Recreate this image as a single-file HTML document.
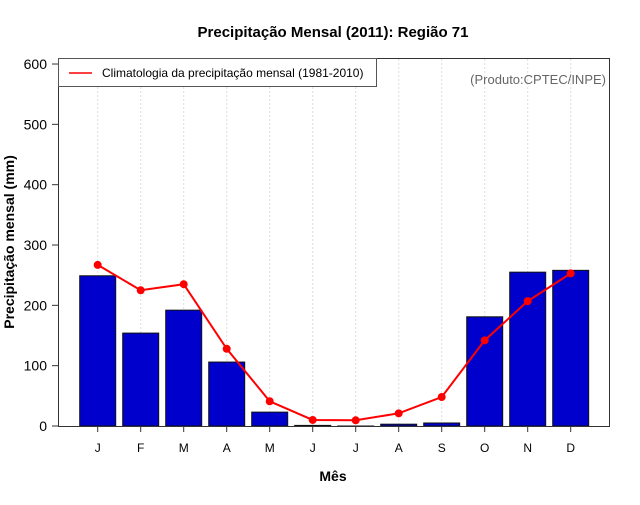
<!DOCTYPE html>
<html><head><meta charset="utf-8"><style>
body{margin:0;background:#fff;width:640px;height:500px;overflow:hidden}
svg{font-family:"Liberation Sans",sans-serif}
</style></head><body>
<svg width="640" height="500">
<text x="333" y="37" text-anchor="middle" font-size="15" font-weight="bold">Precipitação Mensal (2011): Região 71</text>
<g id="grid"></g>
<g id="bars"></g>
<g id="line"></g>
<rect x="58.5" y="58.5" width="551" height="368" fill="none" stroke="#333" stroke-width="1"/>
<g id="yaxis"></g>
<g id="xaxis"></g>
<text x="333" y="481" text-anchor="middle" font-size="14" font-weight="bold">Mês</text>
<text transform="translate(14,242) rotate(-90)" text-anchor="middle" font-size="14" font-weight="bold">Precipitação mensal (mm)</text>
<g>
<rect x="58.5" y="58.5" width="318" height="28" fill="#fff" stroke="#555"/>
<line x1="69" y1="73" x2="92" y2="73" stroke="#f00" stroke-width="1.5"/>
<text x="102" y="77" font-size="12">Climatologia da precipitação mensal (1981-2010)</text>
</g>
<text x="606" y="84" text-anchor="end" font-size="13" fill="#666">(Produto:CPTEC/INPE)</text>
</svg>
<script>
const months=["J","F","M","A","M","J","J","A","S","O","N","D"];
const observed=[249,154,192,106,23,1,0,3,5,181,255,258];
const climatology=[267,225,235,128,41,10,9.5,21,48,142,207,253];
const yTicks=[0,100,200,300,400,500,600];
const NS="http://www.w3.org/2000/svg";
const xs=i=>97.7+43*i;
const ys=v=>426-v*0.6033;
function mk(tag,attrs,parent){const e=document.createElementNS(NS,tag);for(const k in attrs)e.setAttribute(k,attrs[k]);document.getElementById(parent).appendChild(e);return e;}
months.forEach((m,i)=>{
 const g=mk('line',{x1:xs(i),x2:xs(i),y1:59,y2:426,stroke:'#ddd','stroke-dasharray':'2,2'},'grid');
 
 
 const b=mk('rect',{x:xs(i)-18,y:ys(observed[i]),width:36,height:Math.max(426-ys(observed[i]),0.5),fill:'#0000cc',stroke:'#111','stroke-width':1},'bars');
 
 
 const t=mk('line',{x1:xs(i),x2:xs(i),y1:426,y2:432,stroke:'#333'},'xaxis');
 
 
 const l=mk('text',{x:xs(i),y:452,'text-anchor':'middle','font-size':12},'xaxis');
 l.textContent=m;
 
 
});
const p=mk('polyline',{points:climatology.map((v,i)=>xs(i)+','+ys(v)).join(' '),fill:'none',stroke:'#f00','stroke-width':2},'line');


climatology.forEach((v,i)=>{
 const c=mk('circle',{cx:xs(i),cy:ys(v),r:4,fill:'#f00'},'line');
 
 
});
yTicks.forEach(v=>{
 const t=mk('line',{x1:52,x2:58,y1:ys(v),y2:ys(v),stroke:'#333'},'yaxis');
 
 
 const l=mk('text',{x:47,y:ys(v)+5,'text-anchor':'end','font-size':14},'yaxis');
 l.textContent=v;
 
 
});
</script>
</body></html>
